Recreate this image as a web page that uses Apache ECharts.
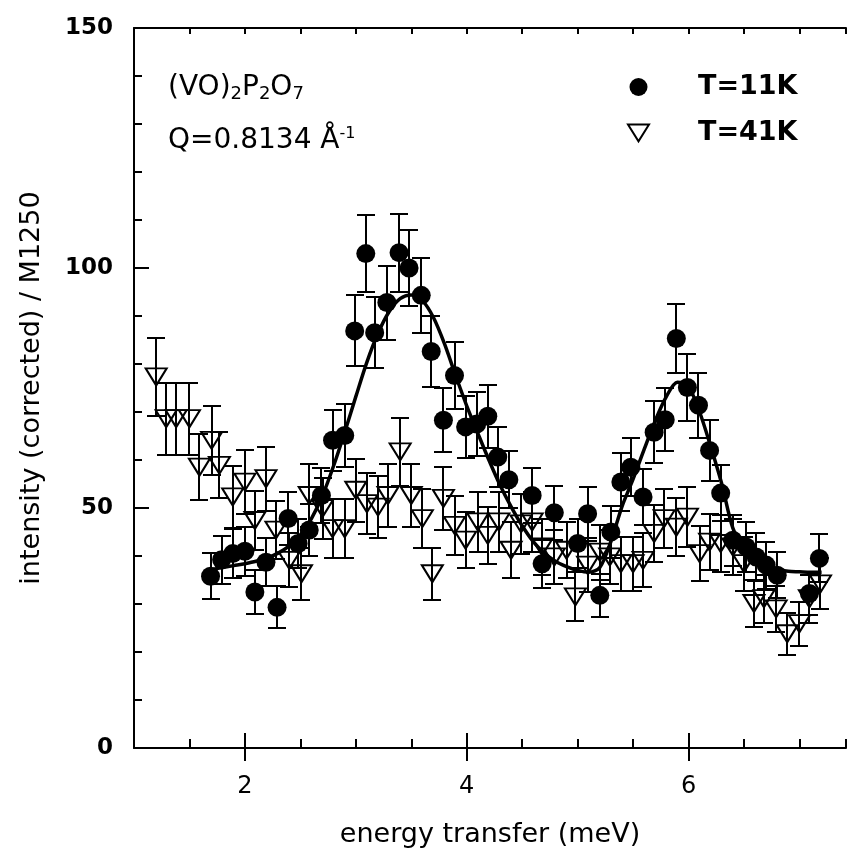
<!DOCTYPE html>
<html>
<head>
<meta charset="utf-8">
<title>(VO)2P2O7 energy transfer</title>
<script src="https://cdn.jsdelivr.net/npm/echarts@6/dist/echarts.min.js"></script>
<style>
  html, body { margin: 0; padding: 0; background: #fff; }
  #main { width: 849px; height: 860px; }
</style>
</head>
<body>
<div id="main"></div>
<script>
// T = 11 K (filled circles)
const energy11 = [1.69, 1.79, 1.89, 2.0, 2.09, 2.19, 2.29, 2.39, 2.48, 2.58,
  2.69, 2.79, 2.90, 2.99, 3.09, 3.17, 3.28, 3.39, 3.48, 3.59,
  3.68, 3.79, 3.89, 3.99, 4.09, 4.19, 4.28, 4.38, 4.59, 4.68,
  4.79, 5.0, 5.09, 5.20, 5.30, 5.39, 5.48, 5.59, 5.69, 5.79,
  5.89, 5.99, 6.09, 6.19, 6.29, 6.40, 6.52, 6.61, 6.70, 6.80,
  7.09, 7.18];
const intensity11 = [35.8, 39.2, 40.5, 41, 32.5, 38.7, 29.3, 47.8, 42.6, 45.4,
  52.6, 64.1, 65.1, 86.9, 103, 86.5, 92.8, 103.2, 100, 94.3,
  82.6, 68.3, 77.6, 66.9, 67.5, 69.1, 60.6, 55.9, 52.6, 38.4,
  49, 42.6, 48.8, 31.8, 45, 55.4, 58.5, 52.3, 65.8, 68.4,
  85.3, 75.1, 71.4, 62, 53.1, 43.3, 41.9, 39.8, 38.1, 36,
  32.2, 39.5];
const error11 = [4.8, 5, 5.1, 5.1, 4.6, 5, 4.4, 5.5, 5.2, 5.4,
  5.8, 6.4, 6.5, 7.4, 8, 7.4, 7.7, 8.1, 8, 7.8,
  7.3, 6.6, 7, 6.5, 6.6, 6.6, 6.2, 6, 5.8, 5,
  5.6, 5.2, 5.6, 4.5, 5.4, 6, 6.1, 5.8, 6.5, 6.6,
  7.2, 6.9, 6.8, 6.3, 5.8, 5.3, 5.2, 5, 4.9, 4.8,
  4.5, 5];

// T = 41 K (open triangles)
const energy41 = [1.20, 1.29, 1.38, 1.50, 1.59, 1.70, 1.77, 1.89, 2.0, 2.09,
  2.19, 2.28, 2.40, 2.51, 2.58, 2.70, 2.79, 2.90, 3.0, 3.1,
  3.2, 3.29, 3.40, 3.50, 3.60, 3.69, 3.79, 3.89, 3.99, 4.10,
  4.19, 4.29, 4.40, 4.49, 4.59, 4.68, 4.79, 4.90, 4.98, 5.09,
  5.20, 5.29, 5.39, 5.50, 5.59, 5.69, 5.78, 5.89, 5.99, 6.10,
  6.19, 6.29, 6.40, 6.50, 6.59, 6.68, 6.79, 6.89, 7.0, 7.09,
  7.19];
const intensity41 = [77.3, 68.6, 68.6, 68.6, 58.5, 64.1, 58.9, 52.3, 55.4, 47.4,
  56.1, 45.4, 39.1, 36.3, 52.6, 49.9, 45.7, 45.7, 53.7, 50.9,
  50.2, 52.6, 61.7, 52.6, 47.8, 36.3, 52, 46.4, 43.3, 47.1,
  44.3, 47.1, 41.2, 46.7, 47.1, 41.9, 39.8, 41.2, 31.5, 38.1,
  40.8, 39.8, 38.4, 38.4, 39.1, 44.7, 47.8, 46, 48.1, 40.5,
  42.9, 42.6, 41.9, 38.4, 30.1, 31.1, 29, 23.8, 25.9, 31.1,
  34.2];
const error41 = [8.2, 7.5, 7.5, 7.5, 6.9, 7.2, 6.9, 6.5, 6.7, 6.2,
  6.7, 6.1, 5.6, 5.4, 6.5, 6.4, 6.1, 6.1, 6.6, 6.4,
  6.4, 6.5, 7.1, 6.5, 6.2, 5.4, 6.5, 6.1, 5.9, 6.2,
  6.0, 6.2, 5.8, 6.2, 6.2, 5.8, 5.7, 5.8, 5.1, 5.6,
  5.7, 5.7, 5.6, 5.6, 5.6, 6.0, 6.2, 6.1, 6.2, 5.7,
  5.9, 5.9, 5.8, 5.6, 4.9, 5.0, 4.8, 4.4, 4.6, 5.0,
  5.3];

// fitted curve through the 11 K data
const fitEnergy = [1.7, 1.8, 1.9, 2.0, 2.1, 2.2, 2.3, 2.4, 2.5, 2.6,
  2.7, 2.8, 2.9, 3.0, 3.1, 3.2, 3.3, 3.4, 3.5, 3.6,
  3.7, 3.8, 3.9, 4.0, 4.1, 4.2, 4.3, 4.4, 4.5, 4.6,
  4.7, 4.8, 4.9, 5.0, 5.1, 5.2, 5.3, 5.4, 5.5, 5.6,
  5.7, 5.8, 5.9, 6.0, 6.1, 6.2, 6.3, 6.4, 6.5, 6.6,
  6.7, 6.8, 6.9, 7.0, 7.1, 7.2];
const fitIntensity = [37.2, 37.6, 38.0, 38.4, 38.9, 39.6, 40.6, 42.1, 44.4, 47.8,
  52.6, 58.8, 65.8, 73.2, 80.4, 86.4, 90.9, 93.6, 94.4, 93.2,
  89.7, 84.2, 77.6, 71.3, 65.6, 60.0, 54.8, 50.3, 46.3, 43.0,
  40.6, 38.9, 37.8, 37.0, 36.6, 37.6, 43.0, 50.3, 56.0, 62.2,
  68.2, 73.2, 76.2, 75.2, 70.0, 62.8, 55.0, 45.8, 41.6, 39.3,
  38.0, 37.2, 36.8, 36.7, 36.6, 36.6];

const xMajorTicks = [2, 4, 6];

const FONT = 'DejaVu Sans';
const TRIANGLE = 'path://M0,0L20,0L10,16Z';
const X_MIN = 1;
const X_MAX = 7.42; // the right edge of the original plot is cut off

const chart = echarts.init(document.getElementById('main'));

const toErrorBars = (xs, ys, errs) => xs.map((x, i) => [x, ys[i] - errs[i], ys[i] + errs[i]]);
const toPoints = (xs, ys) => xs.map((x, i) => [x, ys[i]]);

function renderErrorBar(params, api) {
  const x = api.value(0);
  const top = api.coord([x, api.value(2)]);
  const bottom = api.coord([x, api.value(1)]);
  const cx = Math.round(top[0]);
  const y1 = Math.round(top[1]);
  const y2 = Math.round(bottom[1]);
  const half = 9;
  const style = { stroke: '#000', lineWidth: 2 };
  return {
    type: 'group',
    children: [
      { type: 'line', shape: { x1: cx, y1, x2: cx, y2 }, style },
      { type: 'line', shape: { x1: cx - half, y1, x2: cx + half, y2: y1 }, style },
      { type: 'line', shape: { x1: cx - half, y1: y2, x2: cx + half, y2 }, style }
    ]
  };
}

const lineStyle = { color: '#000', width: 2 };
const noSplit = { show: false };

const option = {
  animation: false,
  backgroundColor: '#fff',
  grid: { left: 134, right: 0, top: 28, bottom: 112 },
  xAxis: [
    {
      type: 'value', min: X_MIN, max: X_MAX, interval: 0.5, position: 'bottom',
      axisLine: { show: true, onZero: false, lineStyle },
      axisTick: { show: true, inside: true, length: 9, lineStyle },
      axisLabel: {
        margin: 27, fontSize: 24, color: '#000', fontFamily: FONT,
        formatter: v => (v % 2 === 0 ? String(v) : '')
      },
      splitLine: noSplit,
      name: 'energy transfer (meV)', nameLocation: 'middle', nameGap: 73,
      nameTextStyle: { fontSize: 27, color: '#000', fontFamily: FONT }
    },
    {
      type: 'value', min: X_MIN, max: X_MAX, position: 'bottom',
      axisLine: { show: false },
      axisTick: { show: true, inside: true, length: 15, customValues: xMajorTicks, lineStyle },
      axisLabel: { show: false },
      splitLine: noSplit
    },
    {
      type: 'value', min: X_MIN, max: X_MAX, interval: 0.5, position: 'top',
      axisLine: { show: true, onZero: false, lineStyle },
      axisTick: { show: true, inside: true, length: 6, lineStyle },
      axisLabel: { show: false },
      splitLine: noSplit
    },
    {
      type: 'value', min: X_MIN, max: X_MAX, position: 'top',
      axisLine: { show: false },
      axisTick: { show: true, inside: true, length: 13, customValues: xMajorTicks, lineStyle },
      axisLabel: { show: false },
      splitLine: noSplit
    }
  ],
  yAxis: [
    {
      type: 'value', min: 0, max: 150, interval: 10, position: 'left',
      axisLine: { show: true, onZero: false, lineStyle },
      axisTick: { show: true, inside: true, length: 8, lineStyle },
      axisLabel: { show: false },
      splitLine: noSplit
    },
    {
      type: 'value', min: 0, max: 150, interval: 50, position: 'left',
      axisLine: { show: false },
      axisTick: { show: true, inside: true, length: 15, lineStyle },
      axisLabel: { margin: 21, fontSize: 23, fontWeight: 'bold', color: '#000', fontFamily: FONT },
      splitLine: noSplit,
      name: 'intensity (corrected) / M1250', nameLocation: 'middle', nameGap: 89,
      nameTextStyle: { fontSize: 27, color: '#000', fontFamily: FONT }
    }
  ],
  legend: {
    orient: 'vertical', left: 622, top: 67,
    itemWidth: 21, itemHeight: 18, itemGap: 16,
    textStyle: {
      fontSize: 27, fontWeight: 'bold', color: '#000', fontFamily: FONT,
      lineHeight: 24, padding: [6, 0, 0, 44]
    },
    data: ['T=11K', 'T=41K']
  },
  graphic: [
    {
      type: 'text', x: 168, y: 88, z: 10,
      style: {
        text: '(VO){sub|2}P{sub|2}O{sub|7}',
        fontSize: 28, fontFamily: FONT, fill: '#000', lineHeight: 30,
        verticalAlign: 'middle', textVerticalAlign: 'middle',
        rich: { sub: { fontSize: 18, fontFamily: FONT, fill: '#000', lineHeight: 11, verticalAlign: 'bottom' } }
      }
    },
    {
      type: 'text', x: 168, y: 141, z: 10,
      style: {
        text: 'Q=0.8134 Å{sup|-1}',
        fontSize: 28, fontFamily: FONT, fill: '#000', lineHeight: 30,
        verticalAlign: 'middle', textVerticalAlign: 'middle',
        rich: { sup: { fontSize: 16, fontFamily: FONT, fill: '#000', lineHeight: 8, verticalAlign: 'top' } }
      }
    }
  ],
  series: [
    {
      type: 'custom', name: 'T=41K err', z: 2,
      renderItem: renderErrorBar,
      encode: { x: 0, y: [1, 2] },
      data: toErrorBars(energy41, intensity41, error41),
      silent: true
    },
    {
      type: 'scatter', name: 'T=41K', z: 3,
      symbol: TRIANGLE, symbolSize: [21, 17],
      itemStyle: { color: 'rgba(0,0,0,0)', borderColor: '#000', borderWidth: 2, opacity: 1 },
      data: toPoints(energy41, intensity41)
    },
    {
      type: 'custom', name: 'T=11K err', z: 4,
      renderItem: renderErrorBar,
      encode: { x: 0, y: [1, 2] },
      data: toErrorBars(energy11, intensity11, error11),
      silent: true
    },
    {
      type: 'scatter', name: 'T=11K', z: 5,
      symbol: 'circle', symbolSize: 19,
      itemStyle: { color: '#000', opacity: 1 },
      data: toPoints(energy11, intensity11)
    },
    {
      type: 'line', name: 'fit', z: 6,
      smooth: 0.3, showSymbol: false,
      lineStyle: { color: '#000', width: 3.5 },
      data: toPoints(fitEnergy, fitIntensity)
    }
  ]
};

chart.setOption(option);
</script>
</body>
</html>
